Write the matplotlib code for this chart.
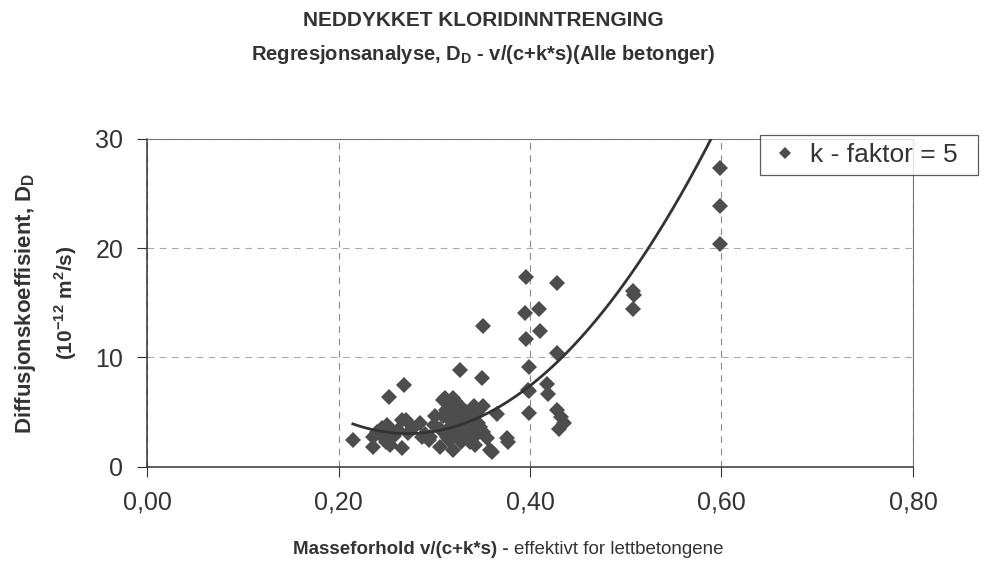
import numpy as np
import matplotlib
matplotlib.use("Agg")
import matplotlib.pyplot as plt

plt.rcParams['font.family'] = ['Liberation Sans', 'DejaVu Sans']

# ---- data ----
vc_ratio = [
    0.215, 0.236, 0.236, 0.246, 0.251, 0.253, 0.254, 0.252, 0.266, 0.266,
    0.268, 0.270, 0.273, 0.285, 0.287, 0.294, 0.296, 0.301, 0.306, 0.306,
    0.309, 0.309, 0.311, 0.313, 0.315, 0.320, 0.320, 0.320, 0.324, 0.327,
    0.327, 0.328, 0.330, 0.330, 0.332, 0.335, 0.335, 0.337, 0.337, 0.340,
    0.341, 0.343, 0.345, 0.346, 0.350, 0.351, 0.351, 0.351, 0.355, 0.358,
    0.360, 0.366, 0.376, 0.377, 0.395, 0.396, 0.396, 0.398, 0.399, 0.399,
    0.399, 0.409, 0.410, 0.418, 0.419, 0.428, 0.428, 0.428, 0.432, 0.435,
    0.430, 0.508, 0.509, 0.508, 0.598, 0.598, 0.598,
    0.315, 0.318, 0.322, 0.325, 0.328, 0.333, 0.336, 0.338, 0.342, 0.345,
    0.332, 0.326, 0.340, 0.348, 0.318, 0.322, 0.312,
    0.240, 0.245, 0.258, 0.262, 0.250, 0.278, 0.290, 0.300,
]
diff_coef = [
    2.45, 1.8, 2.7, 2.7, 3.8, 6.4, 2.0, 3.5, 4.3, 1.7,
    7.5, 4.3, 3.1, 4.0, 2.7, 2.4, 2.7, 4.6, 3.4, 1.8,
    6.1, 4.6, 6.3, 2.7, 2.4, 6.3, 1.5, 3.0, 3.4, 5.5,
    8.8, 2.2, 3.5, 4.8, 4.3, 3.0, 2.5, 3.4, 2.2, 3.8,
    5.5, 2.0, 3.0, 4.0, 8.1, 5.5, 12.9, 3.2, 2.6, 1.5,
    1.3, 4.8, 2.6, 2.2, 14.1, 17.4, 11.7, 7.0, 9.1, 6.9,
    4.9, 14.4, 12.4, 7.6, 6.6, 16.8, 10.4, 5.2, 4.5, 4.0,
    3.4, 16.1, 15.7, 14.4, 27.3, 23.9, 20.4,
    3.5, 4.2, 5.0, 4.5, 3.8, 5.0, 4.2, 5.2, 4.5, 5.0,
    2.8, 3.0, 3.2, 3.6, 5.8, 6.0, 5.2,
    3.2, 3.5, 2.8, 3.3, 2.2, 3.5, 3.0, 3.8,
]
# second-order regression curve D = a*x^2 + b*x + c
fit_coef = [269.1, -146.6, 22.98]
fit_range = [0.215, 0.60]

x_ticks = [0.0, 0.2, 0.4, 0.6, 0.8]
x_ticklabels = ["0,00", "0,20", "0,40", "0,60", "0,80"]
y_ticks = [0, 10, 20, 30]
legend_label = "k - faktor = 5"

# ---- figure ----
W, H = 987, 563
fig = plt.figure(figsize=(W / 100, H / 100), dpi=100)
ax = fig.add_axes([147 / W, 1 - 466.5 / H, (913 - 147) / W, (466.5 - 139) / H])

pt_col = '#4d4d4d'
ax.plot(vc_ratio, diff_coef, linestyle='none', marker='D', markersize=8,
        color=pt_col, markeredgewidth=0, label=legend_label, zorder=3)

xf = np.linspace(fit_range[0], fit_range[1], 300)
yf = np.polyval(fit_coef, xf)
ax.plot(xf, yf, color='#333333', lw=2.0, zorder=4)

ax.set_xlim(0, 0.8)
ax.set_ylim(0, 30)
ax.set_xticks(x_ticks)
ax.set_xticklabels(x_ticklabels)
ax.set_yticks(y_ticks)

ax.grid(True, linestyle=(0, (6, 5)), color='#8a8a8a', lw=0.8)
ax.yaxis.grid(True, linestyle=(0, (6, 5)), color='#aaaaaa', lw=0.8)
ax.set_axisbelow(True)

for side in ['left', 'bottom']:
    ax.spines[side].set_color('#333333')
    ax.spines[side].set_linewidth(1.1)
for side in ['top', 'right']:
    ax.spines[side].set_color('#777777')
    ax.spines[side].set_linewidth(0.8)

ax.tick_params(axis='both', direction='out', length=7, width=0.8,
               color='#333333', labelsize=18, labelcolor='#333333')
ax.tick_params(axis='x', pad=10)
ax.tick_params(axis='y', pad=10)

# titles
fig.text(483 / W, 1 - 20 / H, "NEDDYKKET KLORIDINNTRENGING", ha='center', va='center',
         fontsize=15, fontweight='bold', color='#333333')
fig.text(483 / W, 1 - 55 / H, r"Regresjonsanalyse, D$_\mathregular{D}$ - v/(c+k*s)(Alle betonger)",
         ha='center', va='center', fontsize=14.5, fontweight='bold', color='#333333')

# y label (two lines)
fig.text(26 / W, 1 - 303 / H, r"Diffusjonskoeffisient, D$_\mathregular{D}$", rotation=90,
         ha='center', va='center', fontsize=16, fontweight='bold', color='#333333')
fig.text(66 / W, 1 - 303 / H, r"(10$^\mathregular{-12}$ m$^\mathregular{2}$/s)", rotation=90,
         ha='center', va='center', fontsize=15, fontweight='bold', color='#333333')

# x label: bold part + regular part
t1 = fig.text(293 / W, 1 - 550 / H, "Masseforhold v/(c+k*s) -", ha='left', va='center',
              fontsize=13.5, fontweight='bold', color='#333333')
fig.canvas.draw()
bb = t1.get_window_extent()
fig.text((bb.x1 + 5) / W, 1 - 550 / H, "effektivt for lettbetongene", ha='left', va='center',
         fontsize=13.5, color='#333333')

# legend
leg = fig.legend(loc='upper left', bbox_to_anchor=(760 / W, 1 - 135 / H, 218 / W, 0),
                 mode='expand', frameon=True, fancybox=False, fontsize=19, markerscale=0.75,
                 handlelength=1.3, handletextpad=0.3, borderpad=0.3,
                 labelcolor='#333333', borderaxespad=0)
leg.get_frame().set_edgecolor('#333333')
leg.get_frame().set_linewidth(0.9)

fig.savefig("out.png", dpi=100, facecolor='white')
